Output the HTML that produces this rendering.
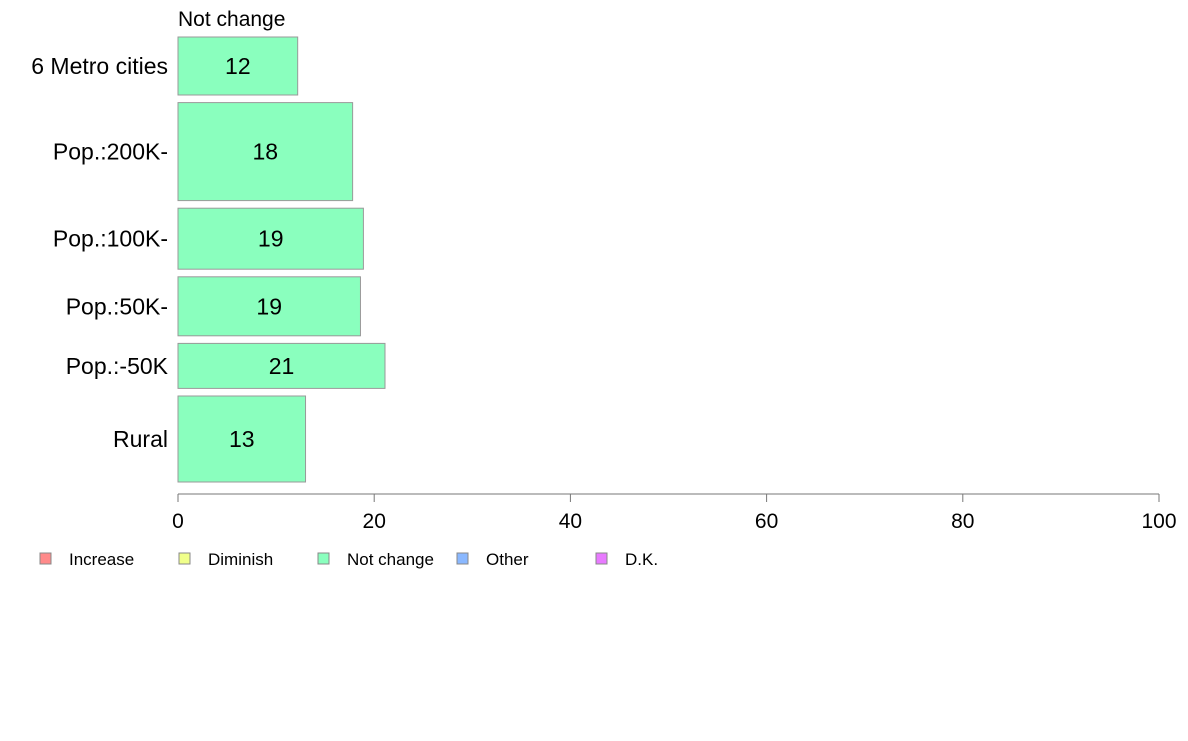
<!DOCTYPE html>
<html><head><meta charset="utf-8"><style>
body{margin:0;background:#fff;}
svg text{font-family:"Liberation Sans",sans-serif;}
</style></head><body>
<svg id="chart" width="1188" height="736" xmlns="http://www.w3.org/2000/svg"></svg>
<script>
const categories=["6 Metro cities","Pop.:200K-","Pop.:100K-","Pop.:50K-","Pop.:-50K","Rural"];
const values=[12.2,17.8,18.9,18.6,21.1,13.0];
const labels=["12","18","19","19","21","13"];
const weights=[58,98,61,59,45,86];
const ticks=[0,20,40,60,80,100];
const legendNames=["Increase","Diminish","Not change","Other","D.K."];
const legendColors=["#ff8a8a","#f0ff8a","#8affbe","#8ab8ff","#e87aff"];
const svg=document.getElementById('chart');
const NS="http://www.w3.org/2000/svg";
const x0=178,x1=1159,yTop=37,yBot=482,gap=7.6;
const xs=v=>x0+(x1-x0)*v/100;
function mk(t,a,txt){const e=document.createElementNS(NS,t);for(const k in a)e.setAttribute(k,a[k]);if(txt!==undefined)e.textContent=txt;svg.appendChild(e);return e;}
const tw=weights.reduce((a,b)=>a+b,0);
const scale=(yBot-yTop-gap*(weights.length-1))/tw;
let y=yTop;
let t=mk('text',{x:x0,y:26,'font-size':21,fill:'#000'},"Not change");


categories.forEach((c,i)=>{
  const h=weights[i]*scale;
  const r=mk('rect',{x:x0,y:y,width:xs(values[i])-x0,height:h,fill:'#8affbe',stroke:'#999','stroke-width':1});
  
  
  const v=mk('text',{x:(x0+xs(values[i]))/2,y:y+h/2+8,'font-size':23,'text-anchor':'middle',fill:'#000'},labels[i]);
  
  
  const l=mk('text',{x:168,y:y+h/2+8,'font-size':23,'text-anchor':'end',fill:'#000'},c);
  
  
  y+=h+gap;
});
const ax=mk('line',{x1:x0,x2:x1,y1:494,y2:494,stroke:'#777','stroke-width':1});


ticks.forEach(tv=>{
  const tl=mk('line',{x1:xs(tv),x2:xs(tv),y1:494,y2:502,stroke:'#777','stroke-width':1});
  
  
  const tt=mk('text',{x:xs(tv),y:528,'font-size':21,'text-anchor':'middle',fill:'#000'},String(tv));
  
  
});
const lx=[35,174,313,452,591];
legendNames.forEach((n,i)=>{
  const s=mk('rect',{x:lx[i]+5,y:553,width:11,height:11,fill:legendColors[i],stroke:'#888','stroke-width':1});
  
  
  const lt=mk('text',{x:lx[i]+34,y:565,'font-size':17,fill:'#000'},n);
  
  
});
</script>
</body></html>
